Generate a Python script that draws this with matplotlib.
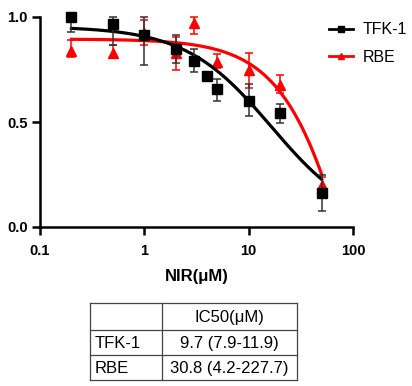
import numpy as np
import matplotlib
matplotlib.use("Agg")
import matplotlib.pyplot as plt
from matplotlib.lines import Line2D

plt.rcParams['font.family'] = ['Liberation Sans', 'DejaVu Sans']

# ---- data ----
conc = [0.2, 0.5, 1, 2, 3, 4, 5, 10, 20, 50]

tfk_mean = [1.0, 0.967, 0.913, 0.846, 0.792, 0.72, 0.655, 0.60, 0.544, 0.163]
tfk_low  = [0.93, 0.865, 0.77, 0.78, 0.738, 0.72, 0.60, 0.53, 0.497, 0.078]
tfk_high = [1.0, 1.0, 1.0, 0.914, 0.846, 0.72, 0.707, 0.683, 0.588, 0.248]

rbe_conc = [0.2, 0.5, 1, 2, 3, 5, 10, 20, 50]
rbe_mean = [0.84, 0.83, 0.925, 0.827, 0.97, 0.787, 0.75, 0.676, 0.20]
rbe_low  = [0.81, 0.803, 0.867, 0.748, 0.917, 0.755, 0.66, 0.636, 0.16]
rbe_high = [0.89, 0.867, 0.986, 0.906, 1.0, 0.822, 0.83, 0.725, 0.24]

# fitted 4-parameter logistic curves (top, bottom, EC50, hill)
tfk_fit = (0.955, 0.0, 16.5, 1.05)
rbe_fit = (0.895, -2.0, 142.0, 1.2)

x_ticks = [0.1, 1, 10, 100]
x_ticklabels = ['0.1', '1', '10', '100']
y_ticks = [0.0, 0.5, 1.0]
y_ticklabels = ['0.0', '0.5', '1.0']

series_names = ['TFK-1', 'RBE']
table_header = ['', 'IC50(μM)']
table_rows = [['TFK-1', '9.7 (7.9-11.9)'], ['RBE', '30.8 (4.2-227.7)']]


def logistic(x, p):
    top, bottom, ec, h = p
    return bottom + (top - bottom) / (1 + (x / ec) ** h)


W, H = 412, 386
fig = plt.figure(figsize=(W / 100, H / 100), dpi=100)
ax = fig.add_axes([40 / W, 1 - 227 / H, (353 - 40) / W, (227 - 17) / H])

xs = np.logspace(np.log10(0.2), np.log10(50), 300)

red = '#ff0000'
# RBE
ax.plot(xs, logistic(xs, rbe_fit), color=red, lw=2.3, zorder=2, clip_on=False)
rm = np.array(rbe_mean)
ax.errorbar(rbe_conc, rm, yerr=[rm - np.array(rbe_low), np.array(rbe_high) - rm],
            fmt='^', color=red, ecolor=red, elinewidth=1.1, capsize=3, capthick=1.1,
            markersize=6.5, zorder=3, clip_on=False)
# TFK-1
ax.plot(xs, logistic(xs, tfk_fit), color='black', lw=2.3, zorder=4, clip_on=False)
tm = np.array(tfk_mean)
ax.errorbar(conc, tm, yerr=[tm - np.array(tfk_low), np.array(tfk_high) - tm],
            fmt='s', color='black', ecolor='#333333', elinewidth=1.1, capsize=3, capthick=1.1,
            markersize=6.5, zorder=5, clip_on=False)

ax.set_xscale('log')
ax.set_xlim(0.1, 100)
ax.set_ylim(0, 1.0)
ax.set_xticks(x_ticks)
ax.set_xticklabels(x_ticklabels)
ax.set_yticks(y_ticks)
ax.set_yticklabels(y_ticklabels)
ax.xaxis.set_minor_locator(matplotlib.ticker.NullLocator())
for s in ['top', 'right']:
    ax.spines[s].set_visible(False)
for s in ['left', 'bottom']:
    ax.spines[s].set_linewidth(1.8)
ax.tick_params(axis='both', direction='out', width=1.8, length=6, labelsize=10.5)
ax.tick_params(axis='x', pad=6)
ax.tick_params(axis='y', pad=3)
for lab in ax.get_xticklabels() + ax.get_yticklabels():
    lab.set_fontweight('bold')
ax.set_xlabel('NIR(μM)', fontsize=12, fontweight='bold', labelpad=8)

# legend
handles = [Line2D([], [], color='black', lw=2.0, marker='s', markersize=4.5),
           Line2D([], [], color=red, lw=2.0, marker='^', markersize=4.5)]
fig.legend(handles, series_names, loc='upper left', bbox_to_anchor=(318 / W, 1 - 11 / H),
           frameon=False, fontsize=11.5, handlelength=1.5, handletextpad=0.6,
           labelspacing=0.8, borderaxespad=0.3)

# table
col_x = [90, 162, 297]
row_y = [303, 330, 355, 380]
tax = fig.add_axes([0, 0, 1, 1])
tax.set_xlim(0, W)
tax.set_ylim(H, 0)
tax.axis('off')
for yy in row_y:
    tax.plot([col_x[0], col_x[-1]], [yy, yy], color='#444444', lw=0.9)
for xx in col_x:
    tax.plot([xx, xx], [row_y[0], row_y[-1]], color='#444444', lw=0.9)
rows = [table_header] + table_rows
for i, row in enumerate(rows):
    yc = (row_y[i] + row_y[i + 1]) / 2 + 1
    if row[0]:
        tax.text(col_x[0] + 5, yc, row[0], ha='left', va='center', fontsize=12)
    tax.text((col_x[1] + col_x[2]) / 2, yc, row[1], ha='center', va='center', fontsize=12)

fig.savefig('out.png', dpi=100)
